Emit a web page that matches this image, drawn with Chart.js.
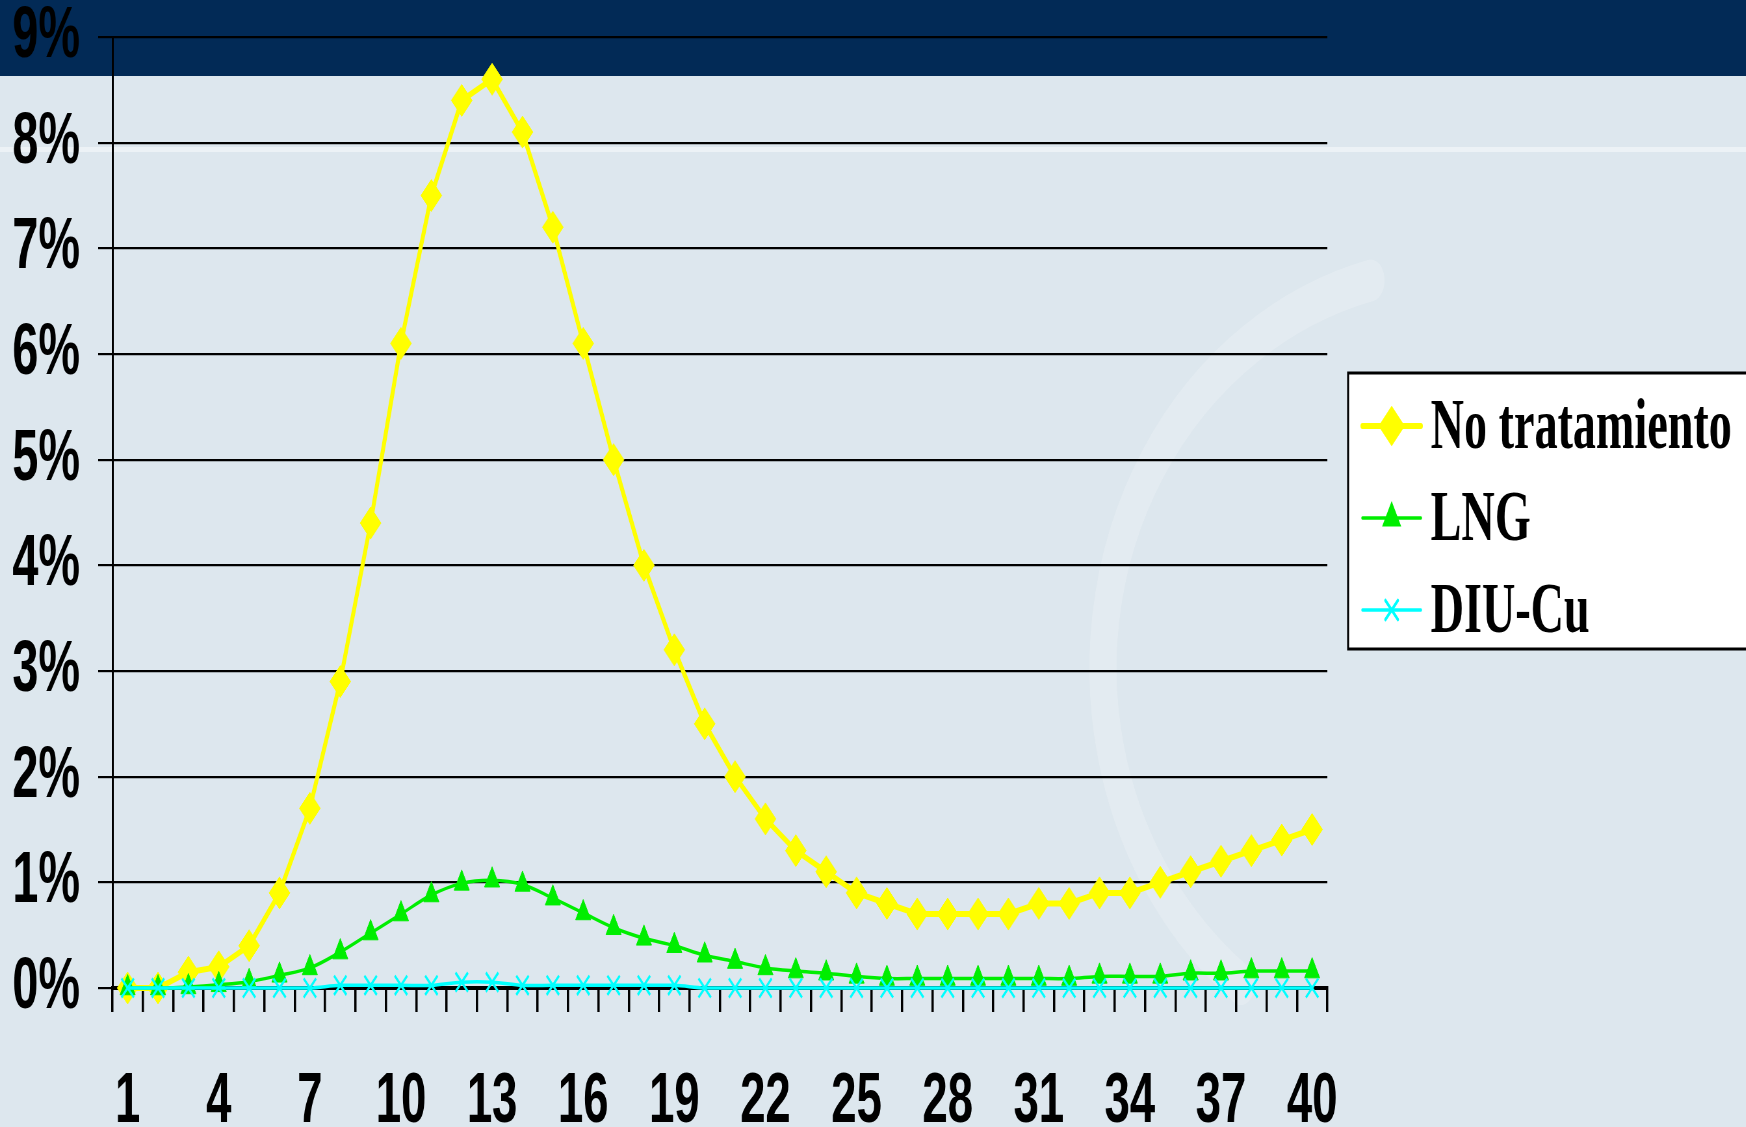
<!DOCTYPE html>
<html>
<head>
<meta charset="utf-8">
<script src="https://cdn.jsdelivr.net/npm/chart.js@4.4.1/dist/chart.umd.min.js"></script>
<style>
  html, body { margin: 0; padding: 0; background: #dde7ee; overflow: hidden; }
  #wrap { position: absolute; left: 0; top: 0; width: 2687px; height: 1127px;
          transform: scaleX(0.65); transform-origin: 0 0; }
</style>
</head>
<body>
<div id="wrap"><canvas id="grafico" width="2687" height="1127"></canvas></div>
<script>
// semanas (eje X)
const semanas = ['1','2','3','4','5','6','7','8','9','10','11','12','13','14','15','16','17','18','19','20',
                 '21','22','23','24','25','26','27','28','29','30','31','32','33','34','35','36','37','38','39','40'];
const semanasVisibles = ['1','4','7','10','13','16','19','22','25','28','31','34','37','40'];
const etiquetasY = ['0%','1%','2%','3%','4%','5%','6%','7%','8%','9%'];

// porcentajes
const noTratamiento = [0, 0, 0.15, 0.2, 0.4, 0.9, 1.7, 2.9, 4.4, 6.1, 7.5, 8.4, 8.6, 8.1, 7.2, 6.1, 5.0, 4.0, 3.2, 2.5,
                       2.0, 1.6, 1.3, 1.1, 0.9, 0.8, 0.7, 0.7, 0.7, 0.7, 0.8, 0.8, 0.9, 0.9, 1.0, 1.1, 1.2, 1.3, 1.4, 1.5];
const lng = [0, 0, 0.01, 0.03, 0.06, 0.12, 0.19, 0.34, 0.52, 0.7, 0.88, 0.99, 1.02, 0.98, 0.85, 0.71, 0.57, 0.47, 0.4, 0.31,
             0.25, 0.19, 0.16, 0.14, 0.11, 0.09, 0.09, 0.09, 0.09, 0.09, 0.09, 0.09, 0.11, 0.11, 0.11, 0.14, 0.14, 0.16, 0.16, 0.16];
const diuCu = [0, 0, 0, 0, 0, 0, 0, 0.025, 0.025, 0.025, 0.025, 0.055, 0.055, 0.025, 0.025, 0.025, 0.025, 0.025, 0.025, 0,
               0, 0, 0, 0, 0, 0, 0, 0, 0, 0, 0, 0, 0, 0, 0, 0, 0, 0, 0, 0];

// la diapositiva original esta comprimida en horizontal (todo el lienzo va con scaleX 0.65)
const ESCALA = 0.65;
const fuenteEjes = "'Liberation Sans', Arial, sans-serif";

const series = [
  { label: 'No tratamiento', data: noTratamiento, color: '#ffff00', width: 6, punto: 'rectRot', radio: 16, tension: 0, order: 2 },
  { label: 'LNG', data: lng, color: '#00ee00', width: 3.5, punto: 'triangle', radio: 13.5, tension: 0.35, order: 1 },
  { label: 'DIU-Cu', data: diuCu, color: '#00ffff', width: 3.5, punto: 'crossRot', radio: 13.5, tension: 0.35, order: 0 }
];

// fondo, franja azul superior y marca de agua tenue
const fondo = {
  id: 'fondo',
  beforeDraw(chart) {
    const c = chart.ctx;
    c.save();
    c.fillStyle = '#dde7ee';
    c.fillRect(0, 0, chart.width, chart.height);
    c.fillStyle = 'rgba(255,255,255,0.45)';
    c.fillRect(0, 147, chart.width, 5);
    c.strokeStyle = 'rgba(255,255,255,0.2)';
    c.lineCap = 'round';
    c.lineWidth = 42;
    c.beginPath();
    c.ellipse(1459 / ESCALA, 668, 356 / ESCALA, 400, 0, -Math.PI / 2 - 0.25, 2.23, true);
    c.stroke();
    c.fillStyle = '#022a56';
    c.fillRect(0, 0, chart.width, 76);
    c.restore();
  }
};

// leyenda con recuadro a la derecha
const leyenda = {
  id: 'leyenda',
  afterDraw(chart) {
    const c = chart.ctx;
    c.save();
    c.fillStyle = '#ffffff';
    c.fillRect(2074, 373, 700, 276);
    c.strokeStyle = '#000000';
    c.lineWidth = 3;
    c.strokeRect(2074, 373, 700, 276);
    const filas = [448, 540, 632];
    series.forEach((s, i) => {
      const yb = filas[i];
      const ym = yb - 22;
      c.strokeStyle = s.color;
      c.fillStyle = s.color;
      c.lineWidth = s.width;
      c.lineCap = 'round';
      c.beginPath();
      c.moveTo(2096, ym);
      c.lineTo(2186, ym);
      c.stroke();
      Chart.helpers.drawPoint(c, { pointStyle: s.punto, radius: s.radio, borderWidth: s.punto === 'crossRot' ? 3 : 1, rotation: 0 }, 2141, ym);
      c.fillStyle = '#000000';
      c.font = "bold 71px 'Liberation Serif', 'Times New Roman', serif";
      c.textBaseline = 'alphabetic';
      c.fillText(s.label, 2201, yb);
    });
    c.restore();
  }
};

new Chart(document.getElementById('grafico'), {
  type: 'line',
  data: {
    labels: semanas,
    datasets: series.map(s => ({
      label: s.label,
      data: s.data,
      borderColor: s.color,
      backgroundColor: s.color,
      borderWidth: s.width,
      pointStyle: s.punto,
      pointRadius: s.radio,
      pointBorderWidth: s.punto === 'crossRot' ? 3 : 1,
      pointBackgroundColor: s.color,
      pointBorderColor: s.color,
      tension: s.tension,
      order: s.order,
      clip: false
    }))
  },
  options: {
    responsive: false,
    devicePixelRatio: 1,
    animation: false,
    layout: { padding: { top: 37, right: 645, left: 0, bottom: 0 } },
    plugins: {
      legend: { display: false },
      tooltip: { enabled: false }
    },
    scales: {
      x: {
        offset: true,
        grid: { offset: true, drawOnChartArea: false, drawTicks: true, tickLength: 24, color: '#000000', lineWidth: 3.5 },
        border: { display: true, color: '#000000', width: 4 },
        ticks: {
          autoSkip: false, maxRotation: 0, padding: 56, color: '#000000',
          font: { family: fuenteEjes, weight: 'bold', size: 70, lineHeight: 1 },
          callback(v, i) { const l = semanas[i]; return semanasVisibles.includes(l) ? l : ''; }
        },
        afterFit(scale) { scale.height = 139; scale.paddingLeft = 0; scale.paddingRight = 0; }
      },
      y: {
        min: 0, max: 9,
        grid: { color: '#000000', lineWidth: 2.2, tickLength: 22 },
        border: { display: true, color: '#000000', width: 3 },
        ticks: {
          stepSize: 1, padding: 28, color: '#000000',
          font: { family: fuenteEjes, weight: 'bold', size: 72, lineHeight: 1 },
          callback(v) { return etiquetasY[v]; }
        },
        afterFit(scale) { scale.width = 173; scale.paddingTop = 0; scale.paddingBottom = 0; }
      }
    }
  },
  plugins: [fondo, leyenda]
});
</script>
</body>
</html>
